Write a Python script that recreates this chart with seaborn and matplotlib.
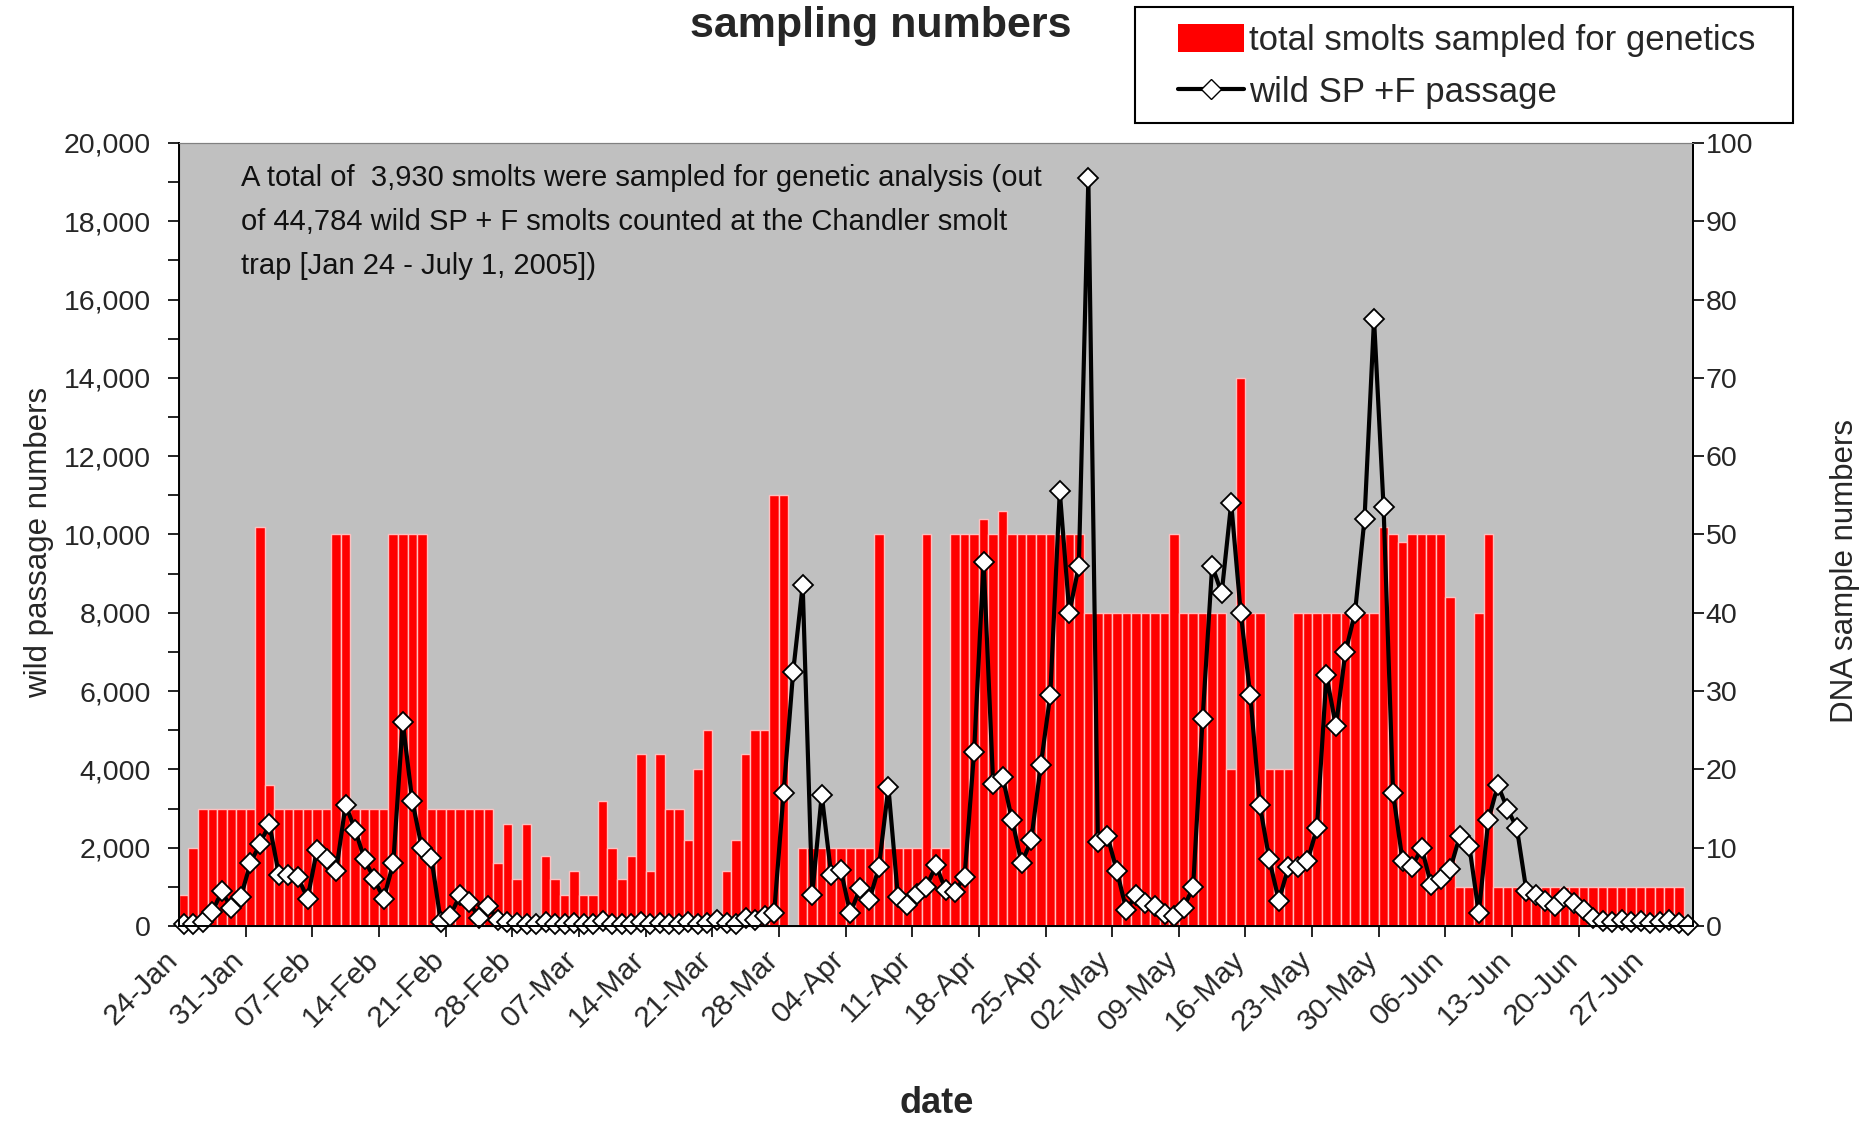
import matplotlib
matplotlib.use("Agg")
from matplotlib import pyplot as plt
from matplotlib.patches import Patch, Rectangle
from matplotlib.lines import Line2D
from matplotlib.ticker import FuncFormatter, MultipleLocator
import matplotlib.transforms as mtransforms
import numpy as np
import seaborn as sns

# daily categories, 24-Jan .. 01-Jul 2005
day = np.arange(159)

# DNA samples per day (right axis)
samples = [4, 10, 15, 15, 15, 15, 15,
           15, 51, 18, 15, 15, 15, 15,
           15, 15, 50, 50, 15, 15, 15,
           15, 50, 50, 50, 50, 15, 15,
           15, 15, 15, 15, 15, 8, 13,
           6, 13, 0, 9, 6, 4, 7,
           4, 4, 16, 10, 6, 9, 22,
           7, 22, 15, 15, 11, 20, 25,
           0, 7, 11, 22, 25, 25, 55,
           55, 0, 10, 10, 10, 10, 10,
           10, 10, 10, 50, 10, 10, 10,
           10, 50, 10, 10, 50, 50, 50,
           52, 50, 53, 50, 50, 50, 50,
           50, 50, 50, 50, 40, 40, 40,
           40, 40, 40, 40, 40, 40, 50,
           40, 40, 40, 40, 40, 20, 70,
           40, 40, 20, 20, 20, 40, 40,
           40, 40, 40, 40, 40, 40, 40,
           51, 50, 49, 50, 50, 50, 50,
           42, 5, 5, 40, 50, 5, 5,
           5, 5, 5, 5, 5, 5, 5,
           5, 5, 5, 5, 5, 5, 5,
           5, 5, 5, 5, 0]

# wild SP + F passage per day (left axis)
passage = [50, 40, 100, 350, 900, 450, 750,
           1600, 2100, 2600, 1300, 1300, 1250, 700,
           1950, 1700, 1400, 3100, 2450, 1700, 1200,
           700, 1600, 5200, 3200, 2000, 1750, 100,
           250, 800, 620, 200, 500, 150, 100,
           80, 60, 50, 100, 60, 50, 80,
           40, 60, 120, 50, 40, 60, 100,
           50, 80, 40, 60, 100, 50, 80,
           150, 80, 60, 200, 150, 250, 330,
           3400, 6500, 8700, 800, 3350, 1300, 1430,
           320, 960, 660, 1500, 3550, 750, 540,
           830, 1000, 1560, 920, 880, 1260, 4450,
           9300, 3640, 3800, 2700, 1600, 2200, 4100,
           5900, 11100, 8000, 9200, 19100, 2150, 2300,
           1400, 400, 800, 600, 500, 300, 250,
           460, 1000, 5300, 9200, 8500, 10800, 8000,
           5900, 3100, 1700, 650, 1500, 1500, 1650,
           2500, 6400, 5100, 7000, 8000, 10400, 15500,
           10700, 3400, 1650, 1500, 2000, 1050, 1200,
           1450, 2300, 2050, 330, 2700, 3600, 3000,
           2500, 900, 800, 650, 500, 750, 600,
           400, 200, 130, 100, 150, 100, 120,
           80, 100, 150, 80, 30]

tick_pos = [0, 7, 14, 21, 28, 35, 42, 49, 56, 63, 70, 77, 84, 91, 98, 105,
            112, 119, 126, 133, 140, 147, 154]
tick_labels = ['24-Jan', '31-Jan', '07-Feb', '14-Feb', '21-Feb', '28-Feb',
               '07-Mar', '14-Mar', '21-Mar', '28-Mar', '04-Apr', '11-Apr',
               '18-Apr', '25-Apr', '02-May', '09-May', '16-May', '23-May',
               '30-May', '06-Jun', '13-Jun', '20-Jun', '27-Jun']

sns.set_style("white")
plt.rcParams['font.family'] = ['Liberation Sans', 'DejaVu Sans']

fig = plt.figure(figsize=(18.72, 11.23), dpi=100)
ax = fig.add_axes([0.0956, 0.1754, 0.8088, 0.6973])
ax_r = ax.twinx()

# bars on the right (DNA sample) axis
sns.barplot(x=day, y=samples, ax=ax_r, color='#FF0000', saturation=1,
            width=1.0, native_scale=True, errorbar=None,
            edgecolor='#FFC0C0', linewidth=1.0)
# passage line on the left axis
sns.lineplot(x=day, y=passage, ax=ax, color='black', lw=3.0,
             marker='D', markersize=10.5, markerfacecolor='white',
             markeredgecolor='black', markeredgewidth=1.3, clip_on=False)

ax.set_zorder(ax_r.get_zorder() + 1)
ax.patch.set_visible(False)
ax_r.patch.set_visible(True)
ax_r.patch.set_facecolor('#C0C0C0')

ax.set_xlim(-0.5, 158.5)
ax.set_ylim(0, 20000)
ax_r.set_ylim(0, 100)

ax.yaxis.set_major_locator(MultipleLocator(2000))
ax.yaxis.set_minor_locator(MultipleLocator(1000))
ax.yaxis.set_major_formatter(FuncFormatter(lambda v, p: f'{v:,.0f}'))
ax_r.yaxis.set_major_locator(MultipleLocator(10))

ax.set_xticks(tick_pos)
ax.set_xticklabels(tick_labels, rotation=45, ha='right', va='top',
                   rotation_mode='anchor', fontsize=21.5)
ax.set_xticks(np.arange(6.5, 150, 7), minor=True)
ax.tick_params(axis='x', which='major', length=0, pad=14)
ax.tick_params(axis='x', which='minor', length=8, width=1.2, color='black',
               direction='out', bottom=True)
ax.tick_params(axis='y', which='both', direction='out', left=True,
               color='black', width=1.2, length=8)
ax.tick_params(axis='y', which='major', labelsize=20.5, pad=12)
ax_r.tick_params(axis='y', direction='out', right=True, length=8, width=1.2,
                 color='black', labelsize=20.5, pad=1)

# nudge the slanted date labels to the left, as in the original
shift = mtransforms.ScaledTranslation(-0.2, 0, fig.dpi_scale_trans)
for tk in ax.xaxis.get_major_ticks():
    tk.label1.set_transform(tk.label1.get_transform() + shift)

ax.set_xlabel('')
ax.set_ylabel('')
ax_r.set_xlabel('')
ax_r.set_ylabel('')

for s in ['left', 'bottom', 'right']:
    ax.spines[s].set_color('black')
    ax.spines[s].set_linewidth(1.4)
ax.spines['top'].set_color('#808080')
ax_r.spines['right'].set_color('black')
ax_r.spines['right'].set_linewidth(1.4)
ax_r.spines['top'].set_color('#808080')

ax.text(0.041, 0.973,
        'A total of  3,930 smolts were sampled for genetic analysis (out\n'
        'of 44,784 wild SP + F smolts counted at the Chandler smolt\n'
        'trap [Jan 24 - July 1, 2005])',
        transform=ax.transAxes, ha='left', va='top', fontsize=21,
        linespacing=1.72, color='#111111')

fig.text(0.4706, 0.977, 'sampling numbers', ha='center', va='center',
         fontsize=31, fontweight='bold')
fig.text(0.021, 0.517, 'wild passage numbers', rotation=90, ha='center',
         va='center', fontsize=22.5)
fig.text(0.9856, 0.4915, 'DNA sample numbers', rotation=90, ha='center',
         va='center', fontsize=22.5)
fig.text(0.5005, 0.017, 'date', ha='center', va='center', fontsize=26,
         fontweight='bold')

# legend box
fig.patches.append(Rectangle((1135 / 1872, 1 - 123 / 1123), 658 / 1872,
                             116 / 1123, transform=fig.transFigure,
                             fill=False, edgecolor='black', linewidth=1.5))
handles = [Patch(facecolor='#FF0000', edgecolor='none'),
           Line2D([0], [0], color='black', lw=3.0, marker='D',
                  markersize=10.5, markerfacecolor='white',
                  markeredgecolor='black')]
leg = fig.legend(handles, ['total smolts sampled for genetics',
                           'wild SP +F passage'],
                 loc='upper left', bbox_to_anchor=(1178 / 1872, 1 - 24 / 1123),
                 frameon=False, prop={'size': 25}, handlelength=1.9,
                 handleheight=0.83, handletextpad=0.14, borderpad=0,
                 labelspacing=0.55, borderaxespad=0)

plt.savefig("out.png", dpi=100)
